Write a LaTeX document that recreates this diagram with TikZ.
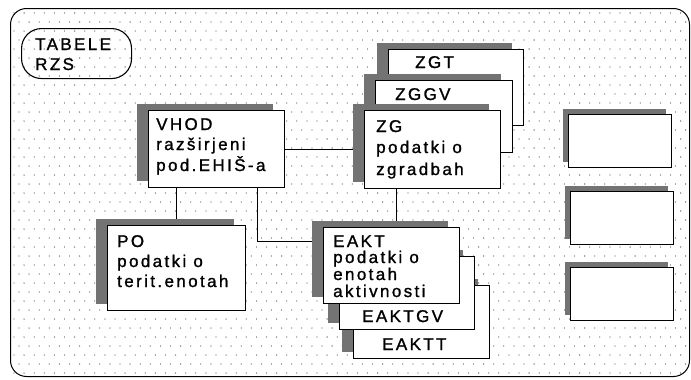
\documentclass[tikz,border=0pt]{standalone}
\usepackage{fontspec}
\newfontfamily\dfont[LetterSpace=14,FakeBold=1.2]{Liberation Sans}
\usetikzlibrary{shadows,backgrounds}
\begin{document}
\begin{tikzpicture}[x=1pt,y=-1pt,
  frm/.style={draw, line width=1pt, rounded corners=16pt, anchor=north west, inner sep=0pt},
  pill/.style={draw, line width=1.1pt, rounded corners=20pt, anchor=north west, inner sep=0pt},
  tbox/.style={draw, fill=white, line width=1.3pt, anchor=north west, inner sep=0pt,
     general shadow={fill=black!55, shadow xshift=-12pt, shadow yshift=7pt}},
  sbox/.style={draw, fill=white, line width=1.3pt, anchor=north west, inner sep=0pt,
     general shadow={fill=black!55, shadow xshift=-6pt, shadow yshift=6pt}},
  lbl/.style={anchor=base west, inner sep=0pt, font=\dfont\fontsize{17}{17}\selectfont},
  conn/.style={line width=1pt},
  dotc/.style={fill=black!65}
]
\useasboundingbox (0,0) rectangle (691,380);
% outer frame
\node[frm, minimum width=679pt, minimum height=368pt] (frame) at (10,8) {};
% label pill
\node[pill, minimum width=110pt, minimum height=50pt] (tab) at (21,28) {};
\node[lbl] (tab1) at (35,50) {TABELE};
\node[lbl] (tab2) at (35,70) {RZS};
% VHOD
\node[tbox, minimum width=136pt, minimum height=77pt] (vhod) at (148,110) {};
\node[lbl] (vhod1) at (156,130) {VHOD};
\node[lbl] (vhod2) at (156,150) {razširjeni};
\node[lbl] (vhod3) at (156,171) {pod.EHIŠ-a};
% ZG stack
\node[tbox, minimum width=135pt, minimum height=76pt] (zgt) at (388,49) {};
\node[lbl] (zgt1) at (415,68) {ZGT};
\node[tbox, minimum width=137pt, minimum height=72pt] (zggv) at (375,80) {};
\node[lbl] (zggv1) at (395,100) {ZGGV};
\node[tbox, minimum width=136pt, minimum height=78pt] (zg) at (364,110) {};
\node[lbl] (zg1) at (376,132) {ZG};
\node[lbl] (zg2) at (376,153) {podatki o};
\node[lbl] (zg3) at (376,175) {zgradbah};
% PO
\node[tbox, minimum width=138pt, minimum height=85pt] (po) at (107,225) {};
\node[lbl] (po1) at (117,247) {PO};
\node[lbl] (po2) at (117,267) {podatki o};
\node[lbl] (po3) at (117,287) {terit.enotah};
% EAKT stack
\node[tbox, minimum width=136pt, minimum height=73pt] (eaktt) at (353,285) {};
\node[lbl] (eaktt1) at (382,350) {EAKTT};
\node[tbox, minimum width=135pt, minimum height=73pt] (eaktgv) at (339,256) {};
\node[lbl] (eaktgv1) at (362,322) {EAKTGV};
\node[tbox, minimum width=136pt, minimum height=76pt] (eakt) at (323,227) {};
\node[lbl] (eakt1) at (333,247) {EAKT};
\node[lbl] (eakt2) at (333,263) {podatki o};
\node[lbl] (eakt3) at (333,280) {enotah};
\node[lbl] (eakt4) at (333,297) {aktivnosti};
% right empty boxes
\node[sbox, minimum width=103pt, minimum height=53pt] (r1) at (568,114) {};
\node[sbox, minimum width=103pt, minimum height=53pt] (r2) at (570,191) {};
\node[sbox, minimum width=103pt, minimum height=53pt] (r3) at (570,267) {};
\begin{scope}[on background layer]
  \foreach \j in {0,...,40}{
    \pgfmathsetmacro\yy{13+\j*9}
    \pgfmathsetmacro\xo{mod(\j,2)*5}
    \foreach \i in {0,...,66}{
      \fill[dotc] (14+\i*10.1+\xo,\yy) circle (0.65pt);
    }
  }
  \draw[conn] (vhod.east) -- (vhod.east -| zg.west);
  \draw[conn] (po.north) -- (po.north |- vhod.south);
  \draw[conn] ([xshift=41pt]vhod.south) |- ([yshift=-14pt]eakt.north west);
  \draw[conn] ([xshift=-36pt]zg.south) -- ([xshift=-36pt]zg.south |- eakt.north);
\end{scope}
\end{tikzpicture}
\end{document}
